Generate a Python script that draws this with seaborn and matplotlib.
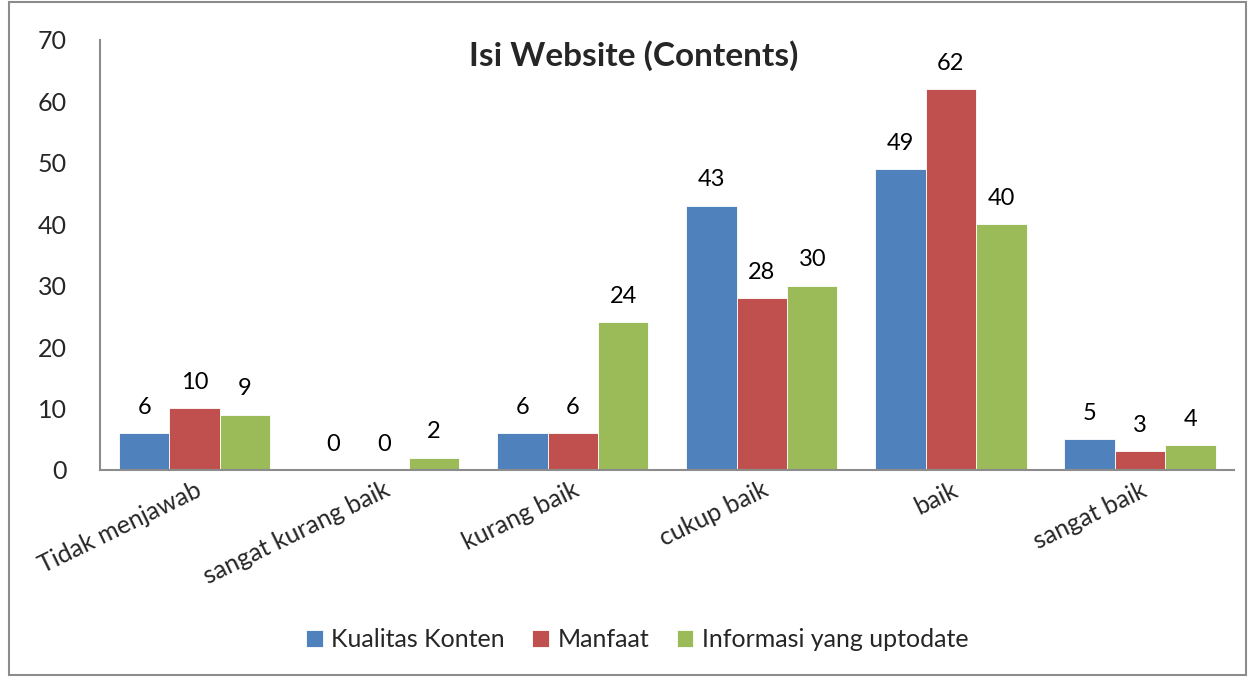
import matplotlib
matplotlib.use("Agg")
import matplotlib.pyplot as plt
import pandas as pd
import seaborn as sns
from matplotlib.patches import Rectangle

# data
CATEGORIES = ["Tidak menjawab", "sangat kurang baik", "kurang baik",
              "cukup baik", "baik", "sangat baik"]
SERIES = ["Kualitas Konten", "Manfaat", "Informasi yang uptodate"]
KUALITAS = [6, 0, 6, 43, 49, 5]
MANFAAT = [10, 0, 6, 28, 62, 3]
INFORMASI = [9, 2, 24, 30, 40, 4]
COLORS = ["#4F81BD", "#C0504D", "#9BBB59"]

df = pd.DataFrame({
    "kategori": CATEGORIES * 3,
    "seri": [s for s in SERIES for _ in CATEGORIES],
    "nilai": KUALITAS + MANFAAT + INFORMASI,
})

sns.set_style("white")
plt.rcParams["font.family"] = ["Lato", "DejaVu Sans"]

fig = plt.figure(figsize=(12.52, 6.77), dpi=100)
ax = fig.add_axes([0.08, 0.306, 0.906, 0.635])

sns.barplot(data=df, x="kategori", y="nilai", hue="seri", order=CATEGORIES,
            hue_order=SERIES, palette=COLORS, width=0.8, saturation=1,
            edgecolor="white", linewidth=0.6, ax=ax)

for cont in ax.containers:
    ax.bar_label(cont, fmt="%d", padding=11, fontsize=17, color="black")

ax.set_ylim(0, 70)
ax.set_yticks(range(0, 71, 10))
ax.set_xlim(-0.5, len(CATEGORIES) - 0.5)
ax.set_xlabel("")
ax.set_ylabel("")
ax.tick_params(axis="y", labelsize=18, length=0, pad=24)
ax.tick_params(axis="x", labelsize=18, length=0, pad=6)
plt.setp(ax.get_xticklabels(), rotation=26, ha="right", rotation_mode="anchor")

for side in ["top", "right"]:
    ax.spines[side].set_visible(False)
for side in ["left", "bottom"]:
    ax.spines[side].set_color("#8C8C8C")
    ax.spines[side].set_linewidth(1.5)

fig.text(0.506, 0.918, "Isi Website (Contents)", ha="center", va="center",
         fontsize=24, fontweight="bold")

handles, labels = ax.get_legend_handles_labels()
ax.legend_.remove()
fig.legend(handles, labels, loc="center", bbox_to_anchor=(0.509, 0.055), ncol=3,
           frameon=False, fontsize=18, handlelength=0.65, handleheight=0.65,
           handletextpad=0.35, columnspacing=1.1)

# outer chart border
fig.patches.append(Rectangle((0.007, 0.003), 0.988, 0.994, transform=fig.transFigure,
                             fill=False, edgecolor="#8C8C8C", linewidth=1.5))

fig.savefig("out.png", dpi=100)
